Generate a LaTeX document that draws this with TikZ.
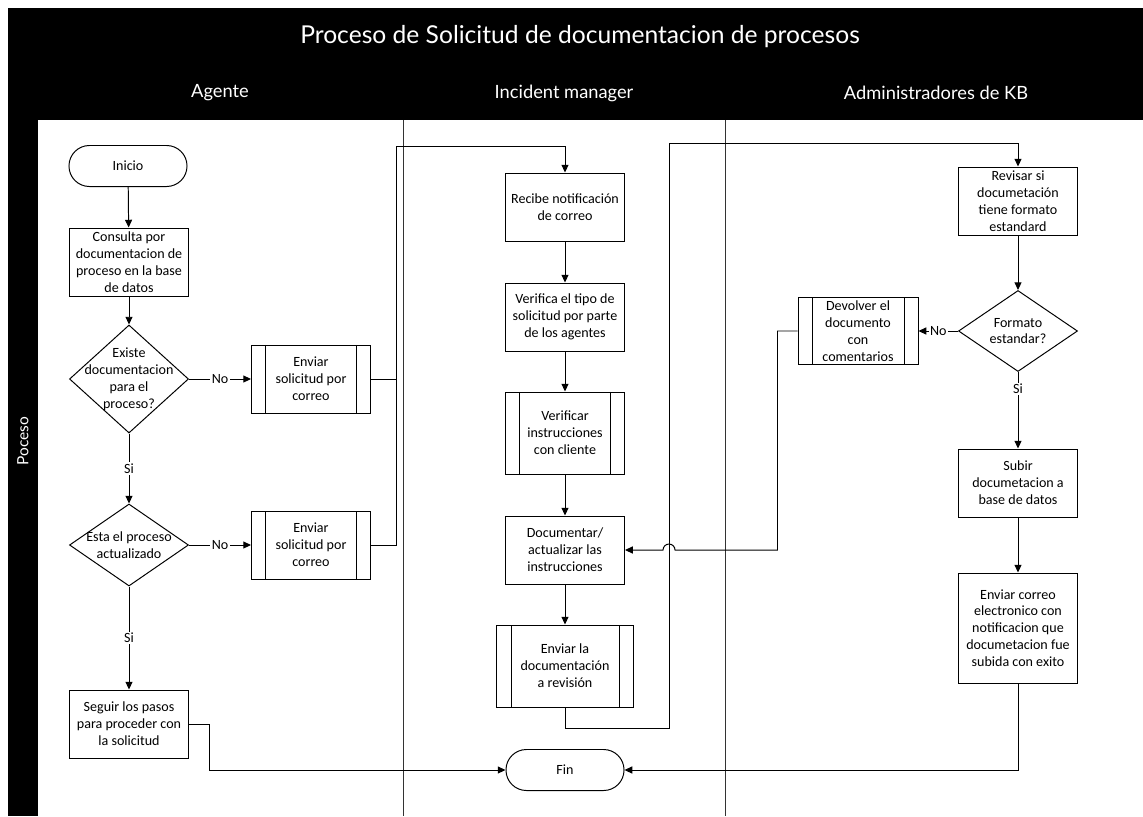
\documentclass[tikz,border=0pt]{standalone}
\usepackage{fontspec}
\setmainfont{Carlito}
\newfontfamily\headfont{Lato}
\usetikzlibrary{shapes.geometric,arrows.meta,positioning}

\tikzset{
  proc/.style={draw, rectangle, minimum width=2.975cm, minimum height=1.7cm, align=center, inner sep=0.5pt, font=\fontsize{10}{12}\selectfont},
  subproc/.style={proc, path picture={
      \draw ([xshift=0.35cm]path picture bounding box.north west) -- ([xshift=0.35cm]path picture bounding box.south west);
      \draw ([xshift=-0.35cm]path picture bounding box.north east) -- ([xshift=-0.35cm]path picture bounding box.south east);}},
  term/.style={draw, rectangle, rounded corners=0.51cm, minimum width=2.95cm, minimum height=1.025cm, font=\fontsize{10}{12}\selectfont},
  decision/.style={draw, diamond, minimum width=2.975cm, minimum height=#1, inner sep=0pt},
  dtext/.style={align=center, font=\fontsize{10}{12}\selectfont},
  arr/.style={-{Triangle[length=5.5pt,width=5pt]}},
  lbl/.style={fill=white, inner sep=1pt, font=\fontsize{10}{12}\selectfont},
  lane/.style={text=white, font=\headfont\fontsize{13}{15}\selectfont},
}

\begin{document}
\begin{tikzpicture}[x=0.025cm, y=-0.025cm, line width=0.7pt]
    \useasboundingbox (0,0) rectangle (1143,816);

    % header and side strip
    \fill[black] (8,8) rectangle (1143,120);
    \fill[black] (8,8) rectangle (38,816);
    \node[text=white, font=\headfont\fontsize{17.5}{20}\selectfont] (title) at (580,37) {Proceso de Solicitud de documentacion de procesos};
    \node[lane] (agente) at (220,93) {Agente};
    \node[lane] (incident) at (564,93) {Incident manager};
    \node[lane] (admin) at (936,93) {Administradores de KB};
    \node[lane, font=\headfont\fontsize{11}{13}\selectfont, rotate=90] (poceso) at (23,441) {Poceso};

    % lane separators
    \draw[black!80] (403,120) -- (403,816);
    \draw[black!80] (725,120) -- (725,816);

    % Agente
    \node[term] (inicio) at (128,166) {Inicio};
    \node[proc] (consulta) at (129,262) {Consulta por\\documentacion de\\proceso en la base\\de datos};
    \node[decision=2.7cm, label={[dtext]center:Existe\\documentacion\\para el\\proceso?}] (existe) at (129,379) {};
    \node[subproc] (enviar1) at (311,379) {Enviar\\solicitud por\\correo};
    \node[decision=2.05cm, label={[dtext]center:Esta el proceso\\actualizado}] (actual) at (129,545) {};
    \node[subproc] (enviar2) at (311,545) {Enviar\\solicitud por\\correo};
    \node[proc] (seguir) at (129,724) {Seguir los pasos\\para proceder con\\la solicitud};

    % Incident manager
    \node[proc] (recibe) at (565,207) {Recibe notificación\\de correo};
    \node[proc] (verifica) at (565,317) {Verifica el tipo de\\solicitud por parte\\de los agentes};
    \node[subproc, minimum height=2.05cm] (verinst) at (565,433) {Verificar\\instrucciones\\con cliente};
    \node[proc] (documentar) at (565,550) {Documentar/\\actualizar las\\instrucciones};
    \node[subproc, minimum width=3.4cm, minimum height=2.05cm] (envdoc) at (565,666) {Enviar la\\documentación\\a revisión};
    \node[term] (fin) at (565,770) {Fin};

    % Administradores de KB
    \node[proc] (revisar) at (1018,201) {Revisar si\\documetación\\tiene formato\\estandard};
    \node[decision=2.025cm, label={[dtext]center:Formato\\estandar?}] (formato) at (1018,331) {};
    \node[subproc, minimum width=3cm, minimum height=1.675cm] (devolver) at (858,331) {Devolver el\\documento\\con\\comentarios};
    \node[proc] (subir) at (1018,483) {Subir\\documetacion a\\base de datos};
    \node[proc, minimum height=2.75cm] (envcorreo) at (1018,628) {Enviar correo\\electronico con\\notificacion que\\documetacion fue\\subida con exito};

    % routing points
    \coordinate (c1) at (396,146);
    \coordinate (c2) at (669,143);
    \coordinate (hop) at (669,550);

    % connectors
    \draw[arr] (inicio) -- (consulta);
    \draw[arr] (consulta) -- (existe);
    \draw[arr] (existe) -- node[lbl] {No} (enviar1);
    \draw[arr] (existe) -- node[lbl] {Si} (actual);
    \draw[arr] (actual) -- node[lbl] {No} (enviar2);
    \draw[arr] (actual) -- node[lbl] {Si} (seguir);
    \draw[arr] (enviar1.east) -| (c1) -| (recibe.north);
    \draw (enviar2.east) -| (c1);
    \draw[arr] (seguir.east) -- ++(20,0) |- (fin.west);

    \draw[arr] (recibe) -- (verifica);
    \draw[arr] (verifica) -- (verinst);
    \draw[arr] (verinst) -- (documentar);
    \draw[arr] (documentar) -- (envdoc);
    \draw[arr] (envdoc.south) -- ++(0,21) -| (c2) -| (revisar.north);

    \draw[arr] (revisar) -- (formato);
    \draw[arr] (formato) -- node[lbl] {No} (devolver);
    \draw[arr] (formato) -- node[lbl, pos=0.22] {Si} (subir);
    \draw[arr] (subir) -- (envcorreo);
    \draw[arr] (envcorreo.south) |- (fin.east);
    \draw[arr] (devolver.west) -- ++(-20,0) |- ([xshift=0.15cm]hop) arc[start angle=0, end angle=180, radius=0.15cm] -- (documentar.east);
\end{tikzpicture}
\end{document}
